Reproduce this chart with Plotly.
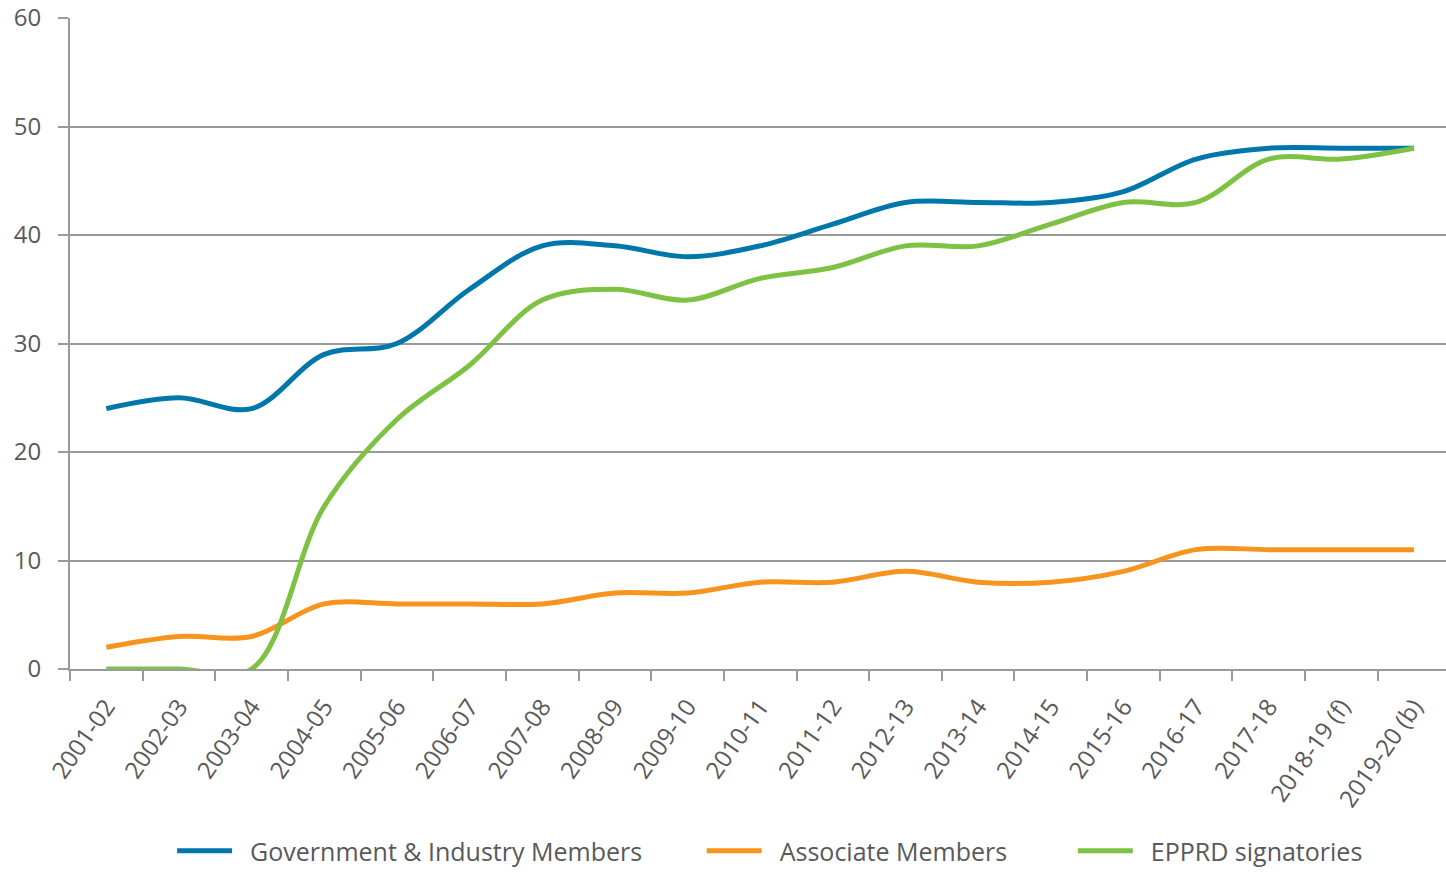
import plotly.graph_objects as go

years = ["2001-02", "2002-03", "2003-04", "2004-05", "2005-06", "2006-07", "2007-08",
         "2008-09", "2009-10", "2010-11", "2011-12", "2012-13", "2013-14", "2014-15",
         "2015-16", "2016-17", "2017-18", "2018-19 (f)", "2019-20 (b)"]
gov_industry = [24, 25, 24, 29, 30, 35, 39, 39, 38, 39, 41, 43, 43, 43, 44, 47, 48, 48, 48]
associate = [2, 3, 3, 6, 6, 6, 6, 7, 7, 8, 8, 9, 8, 8, 9, 11, 11, 11, 11]
epprd = [0, 0, 0, 15, 23, 28, 34, 35, 34, 36, 37, 39, 39, 41, 43, 43, 47, 47, 48]
y_ticks = [0, 10, 20, 30, 40, 50, 60]

series = [
    ("Government & Industry Members", gov_industry, "#0077AA", "legend", 0.0742),
    ("Associate Members", associate, "#F7941D", "legend2", 0.4591),
    ("EPPRD signatories", epprd, "#7DC242", "legend3", 0.7288),
]

grey = "#9a9a9a"
txt = "#595959"
nb = "\u00a0"

fig = go.Figure()
legends = {}
for name, vals, color, lg, lx in series:
    fig.add_trace(go.Scatter(
        x=years, y=vals, name=nb * 2 + name, mode="lines", legend=lg,
        line=dict(color=color, width=5, shape="spline", smoothing=1.0),
    ))
    legends[lg] = dict(orientation="h", x=lx, xanchor="left", y=-0.28, yanchor="middle",
                       font=dict(size=25, color=txt, family="Open Sans"), itemwidth=55,
                       bgcolor="rgba(0,0,0,0)")

fig.update_layout(
    width=1446, height=874,
    margin=dict(l=70, r=0, t=18, b=202),
    plot_bgcolor="white", paper_bgcolor="white",
    font=dict(family="Open Sans", color=txt, size=20),
    showlegend=True,
    **legends,
)
fig.update_xaxes(
    type="category", range=[-0.5, 18.44], tickson="boundaries", ticks="outside", ticklen=10,
    tickcolor=grey, tickwidth=2, showline=True, linecolor=grey, linewidth=2,
    showgrid=False, tickangle=-55, tickfont=dict(size=24, color=txt),
    ticklabelstandoff=12, automargin=False,
)
fig.update_yaxes(
    range=[0, 60], tickmode="array", tickvals=y_ticks, showgrid=True,
    gridcolor=grey, gridwidth=2,
    showline=True, linecolor=grey, linewidth=2, ticks="outside", ticklen=10,
    tickcolor=grey, tickwidth=2, zeroline=False, tickfont=dict(size=24, color=txt),
    ticklabelstandoff=12, automargin=False,
)

fig.write_html(
    "out.html",
    config={"displayModeBar": False},
    post_script="document.documentElement.style.margin='0';"
                "document.body.style.margin='0';"
                "document.body.style.overflow='hidden';",
)
